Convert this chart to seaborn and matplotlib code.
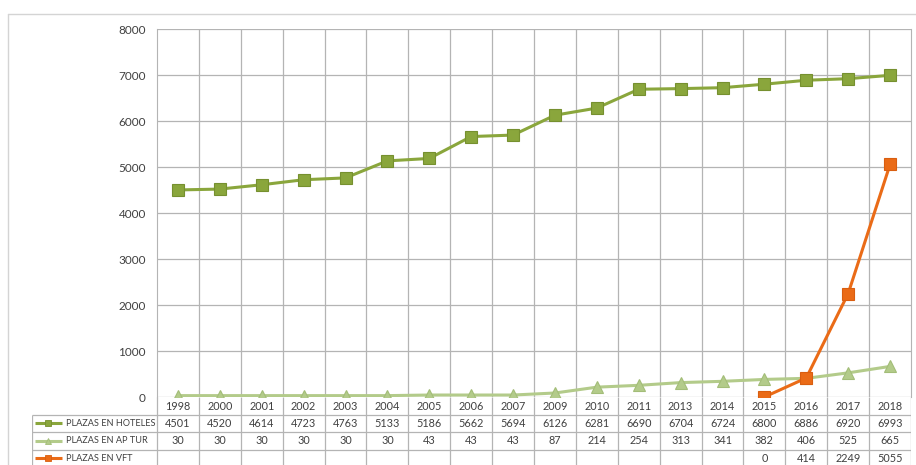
import numpy as np
import pandas as pd
import seaborn as sns
import matplotlib.pyplot as plt
from matplotlib.lines import Line2D

years = ['1998', '2000', '2001', '2002', '2003', '2004', '2005', '2006', '2007',
         '2009', '2010', '2011', '2013', '2014', '2015', '2016', '2017', '2018']
hoteles = [4501, 4520, 4614, 4723, 4763, 5133, 5186, 5662, 5694,
           6126, 6281, 6690, 6704, 6724, 6800, 6886, 6920, 6993]
ap_tur = [30, 30, 30, 30, 30, 30, 43, 43, 43,
          87, 214, 254, 313, 341, 382, 406, 525, 665]
vft = [None] * 14 + [0, 414, 2249, 5055]

series_names = ['PLAZAS EN HOTELES', 'PLAZAS EN AP TUR', 'PLAZAS EN VFT']
series_values = [hoteles, ap_tur, vft]
colors = {'PLAZAS EN HOTELES': '#8aa63c', 'PLAZAS EN AP TUR': '#b3cb8a', 'PLAZAS EN VFT': '#ea6b17'}
edge_colors = {'PLAZAS EN HOTELES': '#76902f', 'PLAZAS EN AP TUR': '#a3bd78', 'PLAZAS EN VFT': '#d95e10'}
markers = {'PLAZAS EN HOTELES': 's', 'PLAZAS EN AP TUR': '^', 'PLAZAS EN VFT': 's'}

rows = []
for name, vals in zip(series_names, series_values):
    for i, v in enumerate(vals):
        if v is not None:
            rows.append({'pos': i, 'value': v, 'serie': name})
df = pd.DataFrame(rows)

sns.set_style('white')
plt.rcParams['font.family'] = ['Lato', 'DejaVu Sans']
text_color = '#404040'
grid_color = '#b4b4b4'

W, H = 916, 465
fig = plt.figure(figsize=(W / 100, H / 100), dpi=100)

def fx(px):
    return px / W

def fy(py):
    return 1 - py / H

left, right, top, zero = 157, 911, 29, 397
ax = fig.add_axes([fx(left), fy(zero), fx(right - left), (zero - top) / H])

n = len(years)
for name in series_names:
    sub = df[df['serie'] == name]
    sns.lineplot(data=sub, x='pos', y='value', ax=ax, color=colors[name],
                 marker=markers[name], markersize=8, markeredgecolor=edge_colors[name],
                 markeredgewidth=0.8, linewidth=2.2, legend=False, zorder=3)

ax.set_xlim(-0.5, n - 0.5)
ax.set_ylim(0, 8000)
ax.set_yticks(range(0, 8001, 1000))
ax.set_xticks([])
ax.set_xlabel('')
ax.set_ylabel('')
ax.tick_params(axis='y', length=0, pad=8, labelsize=8.5, labelcolor=text_color)
ax.grid(False)
for y in range(1000, 8001, 1000):
    ax.axhline(y, color=grid_color, linewidth=0.9, zorder=1)
for b in np.arange(0.5, n - 0.5, 1):
    ax.axvline(b, color=grid_color, linewidth=0.9, zorder=1)
for side in ['top', 'bottom']:
    ax.spines[side].set_visible(False)
ax.spines['left'].set_color(grid_color)
ax.spines['right'].set_color(grid_color)
ax.axhline(0, color=grid_color, linewidth=0.9, zorder=1)

# data table under the plot
col_w = (right - left) / n
tab_left = 32
row_h = 17.5
n_rows = 4
tab = fig.add_axes([fx(tab_left), fy(zero + row_h * n_rows), fx(right - tab_left), row_h * n_rows / H])
tab.set_xlim(-0.5 - (left - tab_left) / col_w, n - 0.5)
tab.set_ylim(n_rows, 0)
tab.axis('off')

leg_x0 = tab.get_xlim()[0]
tab.vlines(np.arange(-0.5, n, 1), 0, n_rows, color=grid_color, linewidth=0.9)
tab.vlines(leg_x0, 1, n_rows, color=grid_color, linewidth=0.9)
tab.hlines([1, 2, 3, 4], leg_x0, n - 0.5, color=grid_color, linewidth=0.9)

for i, yr in enumerate(years):
    tab.text(i, 0.55, yr, ha='center', va='center', fontsize=7.8, color=text_color)

for r, (name, vals) in enumerate(zip(series_names, series_values), start=1):
    yc = r + 0.5
    for i, v in enumerate(vals):
        if v is not None:
            tab.text(i, yc, str(v), ha='center', va='center', fontsize=7.8, color=text_color)
    lx = leg_x0 + 0.07
    tab.plot([lx, lx + 0.64], [yc, yc], color=colors[name], linewidth=2.2, solid_capstyle='butt')
    tab.plot([lx + 0.32], [yc], marker=markers[name], color=colors[name],
             markeredgecolor=edge_colors[name], markersize=4.5, markeredgewidth=0.6)
    tab.text(lx + 0.74, yc, name, ha='left', va='center', fontsize=6.6, color=text_color)

# outer chart border
fig.add_artist(Line2D([fx(8), fx(916)], [fy(14), fy(14)], color='#d4d4d4', linewidth=1))
fig.add_artist(Line2D([fx(8), fx(8)], [fy(14), fy(470)], color='#d4d4d4', linewidth=1))

fig.savefig('out.png', dpi=100)
